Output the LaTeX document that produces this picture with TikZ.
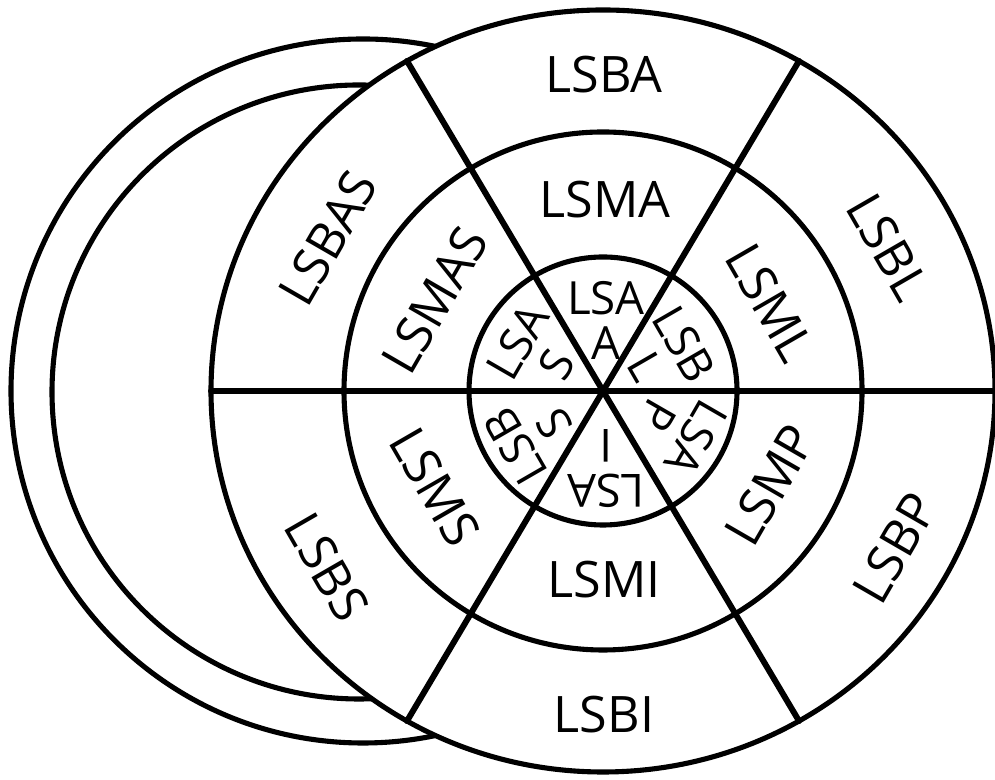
\documentclass[tikz,border=0pt]{standalone}
\usepackage{fontspec}
\setmainfont{Open Sans}
\usetikzlibrary{positioning}
\tikzset{
  ring/.style={
    line width=1.45pt
  },
  spoke/.style={
    line width=1.7pt,
    line cap=round
  },
  lab/.style={
    inner sep=0pt,
    font=\fontsize{14.3}{17}\selectfont
  },
  inlab/.style={
    inner sep=0pt,
    align=center,
    font=\fontsize{13}{12.8}\selectfont
  }
}

\begin{document}
\begin{tikzpicture}[x=0.01cm,y=0.01cm]
        \useasboundingbox (0,0) rectangle (995,780);
        \coordinate (c) at (603,389);
        % the two arcs behind
        \draw[ring] (363,389) circle (352);
        \draw[ring] (359,388) circle (307);
        \filldraw[ring,fill=white] (c) ellipse (392 and 381);
        \draw[ring] (c) circle (259);
        \draw[ring] (c) circle (134);
        \coordinate (e0) at (995,389);
        \coordinate (e60) at (799,719);
        \coordinate (e120) at (407,719);
        \coordinate (e180) at (211,389);
        \coordinate (e240) at (407,59);
        \coordinate (e300) at (799,59);
        \draw[spoke] (e180) -- (e0);
        \draw[spoke] (e120) -- (e300);
        \draw[spoke] (e60) -- (e240);
        % outer ring
        \node[lab] (bA) at (604,705) {LSBA};
        \node[lab,rotate=-60] (bL) at (888,533) {LSBL};
        \node[lab,rotate=60] (bAS) at (328,542) {LSBAS};
        \node[lab,rotate=-60] (bS) at (327,213) {LSBS};
        \node[lab] (bI) at (604,65) {LSBI};
        \node[lab,rotate=60] (bP) at (895,232) {LSBP};
        % middle ring
        \node[lab] (mA) at (605,580) {LSMA};
        \node[lab,rotate=-60] (mL) at (770,477) {LSML};
        \node[lab,rotate=60] (mAS) at (435,480) {LSMAS};
        \node[lab,rotate=-60] (mS) at (435,293) {LSMS};
        \node[lab] (mI) at (604,200) {LSMI};
        \node[lab,rotate=60] (mP) at (770,295) {LSMP};
        % inner ring
        \node[inlab] (sA) at (606,460) {LSA\\A};
        \node[inlab,rotate=-60] (sL) at (665,425) {LSB\\L};
        \node[inlab,rotate=60] (sAS) at (537,427) {LSA\\S};
        \node[inlab,rotate=120] (sS) at (535,345) {LSB\\S};
        \node[inlab,rotate=180] (sI) at (606,311) {LSA\\I};
        \node[inlab,rotate=-120] (sP) at (677,353) {LSA\\P};
    \end{tikzpicture}
\end{document}
